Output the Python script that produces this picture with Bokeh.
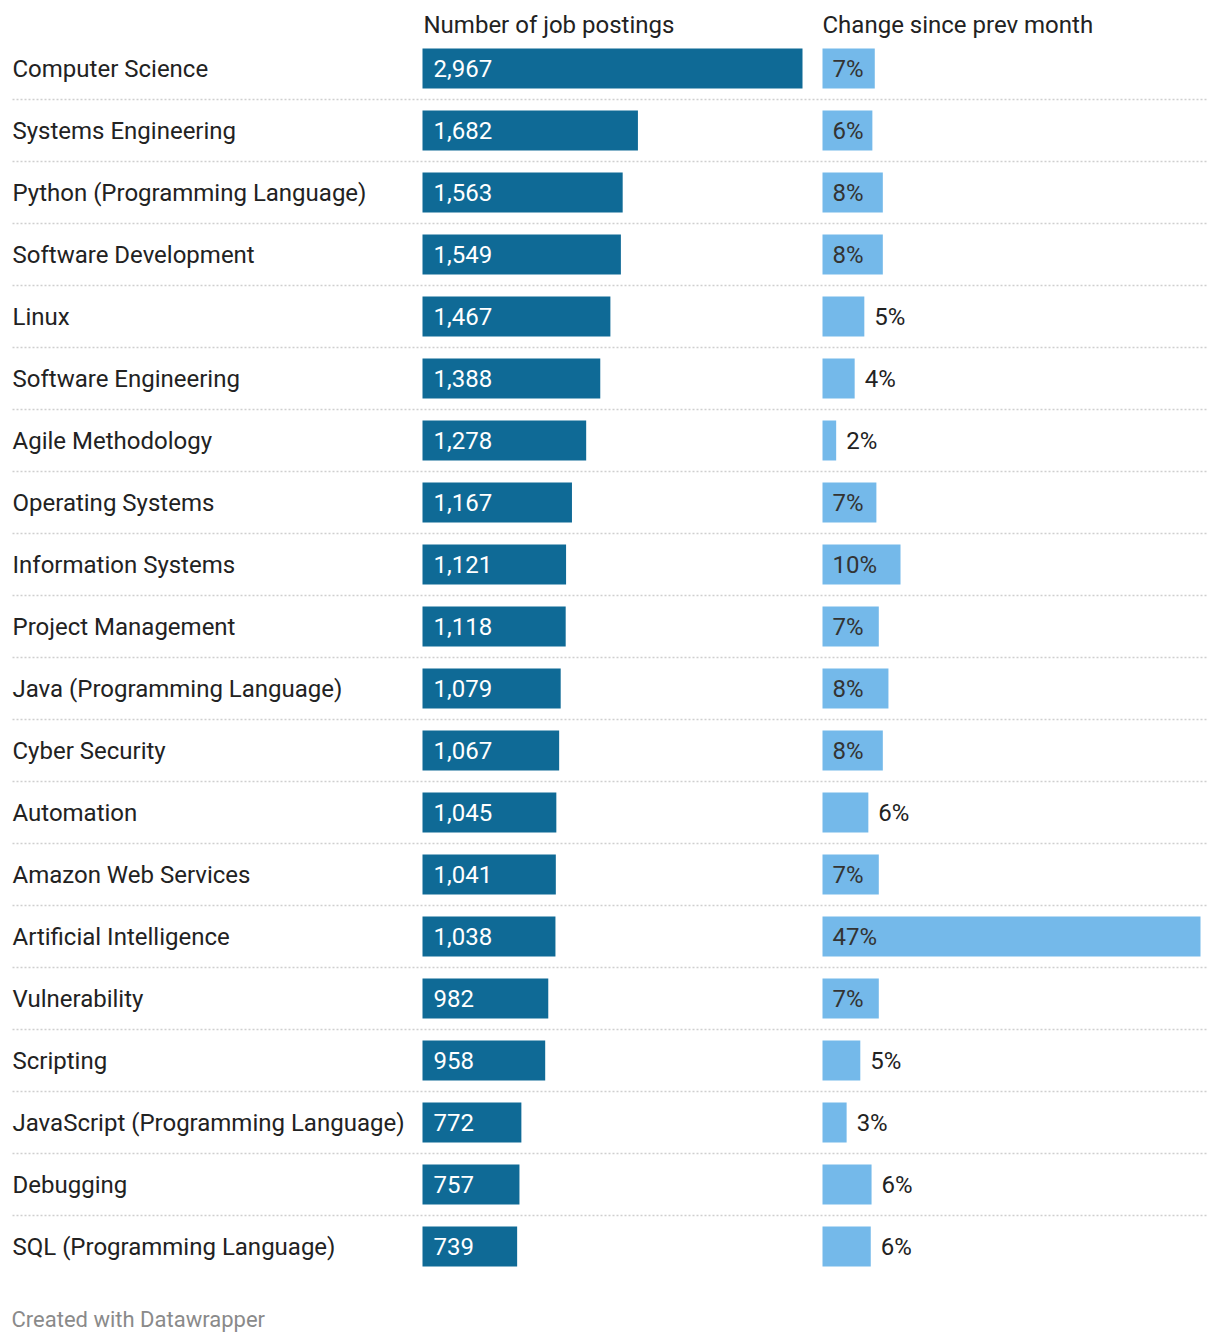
from bokeh.plotting import figure
from bokeh.models import Range1d, ColumnDataSource
from bokeh.core.properties import value
from bokeh.embed import file_html
from bokeh.resources import INLINE

categories = [
    "Computer Science", "Systems Engineering", "Python (Programming Language)",
    "Software Development", "Linux", "Software Engineering", "Agile Methodology",
    "Operating Systems", "Information Systems", "Project Management",
    "Java (Programming Language)", "Cyber Security", "Automation",
    "Amazon Web Services", "Artificial Intelligence", "Vulnerability",
    "Scripting", "JavaScript (Programming Language)", "Debugging",
    "SQL (Programming Language)",
]
postings = [2967, 1682, 1563, 1549, 1467, 1388, 1278, 1167, 1121, 1118,
            1079, 1067, 1045, 1041, 1038, 982, 958, 772, 757, 739]
change = [6.5, 6.2, 7.5, 7.5, 5.2, 4.0, 1.7, 6.7, 9.7, 7.0,
          8.2, 7.5, 5.7, 7.0, 47.0, 7.0, 4.7, 3.0, 6.1, 6.0]
change_labels = ["7%", "6%", "8%", "8%", "5%", "4%", "2%", "7%", "10%", "7%",
                 "8%", "8%", "6%", "7%", "47%", "7%", "5%", "3%", "6%", "6%"]
header_left = "Number of job postings"
header_right = "Change since prev month"
footer = "Created with Datawrapper"

W, H = 1220, 1342
ROW = 62.0
TOP = 68.0
FONT = value("Roboto")

# postings scale: 0 at px 422, max at px 802
s1 = 380.0 / max(postings)
x1s = -422.0 / s1
x1e = x1s + W / s1
# change scale: 0 at px 822, max at px 1200
s2 = 378.0 / max(change)
x2s = -822.0 / s2
x2e = x2s + W / s2

p = figure(width=W, height=H, output_backend="svg", toolbar_location=None,
           x_range=Range1d(x1s, x1e),
           y_range=Range1d(-TOP / ROW + H / ROW, -TOP / ROW),
           min_border=0, outline_line_color=None, background_fill_color="white",
           border_fill_color="white")
p.extra_x_ranges = {"chg": Range1d(x2s, x2e), "px": Range1d(0, W)}
p.xaxis.visible = False
p.yaxis.visible = False
p.grid.visible = False

n = len(categories)
rows = list(range(n))
bh = 40.0 / ROW

# separators
sep_y = [i + 0.5 for i in range(n - 1)]
p.segment(x0=[12] * len(sep_y), x1=[1208] * len(sep_y), y0=sep_y, y1=sep_y,
          x_range_name="px", line_color="#cfcfcf", line_width=1.5, line_dash="2 2")

src = ColumnDataSource(dict(
    y=rows, cat=categories, post=postings, post_lbl=[f"{v:,}" for v in postings],
    chg=change, chg_lbl=change_labels, zero=[0] * n,
))
p.hbar(y="y", left="zero", right="post", height=bh, source=src,
       fill_color="#0f6a96", line_color=None)
p.hbar(y="y", left="zero", right="chg", height=bh, source=src,
       fill_color="#74b9ea", line_color=None, x_range_name="chg")

FS = "24px"
# category labels
p.text(x=[12] * n, y=rows, text=categories, x_range_name="px",
       text_font=FONT, text_font_size=FS, text_color="#222222",
       text_baseline="middle", text_align="left")

# postings labels
p.text(x="zero", y="y", text="post_lbl", source=src, x_offset=11,
       text_font=FONT, text_font_size=FS, text_color="#ffffff",
       text_baseline="middle", text_align="left")

# change labels
thr = 6.15
inside = [i for i in rows if change[i] >= thr]
outside = [i for i in rows if change[i] < thr]
p.text(x=[0] * len(inside), y=inside, text=[change_labels[i] for i in inside],
       x_range_name="chg", x_offset=10,
       text_font=FONT, text_font_size=FS, text_color="#333333",
       text_baseline="middle", text_align="left")
p.text(x=[change[i] for i in outside], y=outside, text=[change_labels[i] for i in outside],
       x_range_name="chg", x_offset=10,
       text_font=FONT, text_font_size=FS, text_color="#222222",
       text_baseline="middle", text_align="left")

# headers
hy = (24 - TOP) / ROW
p.text(x=[423], y=[hy], text=[header_left], x_range_name="px",
       text_font=FONT, text_font_size=FS, text_color="#222222",
       text_baseline="middle", text_align="left")
p.text(x=[822], y=[hy], text=[header_right], x_range_name="px",
       text_font=FONT, text_font_size=FS, text_color="#222222",
       text_baseline="middle", text_align="left")

# footer
fy = (1319 - TOP) / ROW
p.text(x=[11], y=[fy], text=[footer], x_range_name="px",
       text_font=FONT, text_font_size="22px", text_color="#8a8a8a",
       text_baseline="middle", text_align="left")

open("out.html", "w").write(file_html(p, INLINE))
